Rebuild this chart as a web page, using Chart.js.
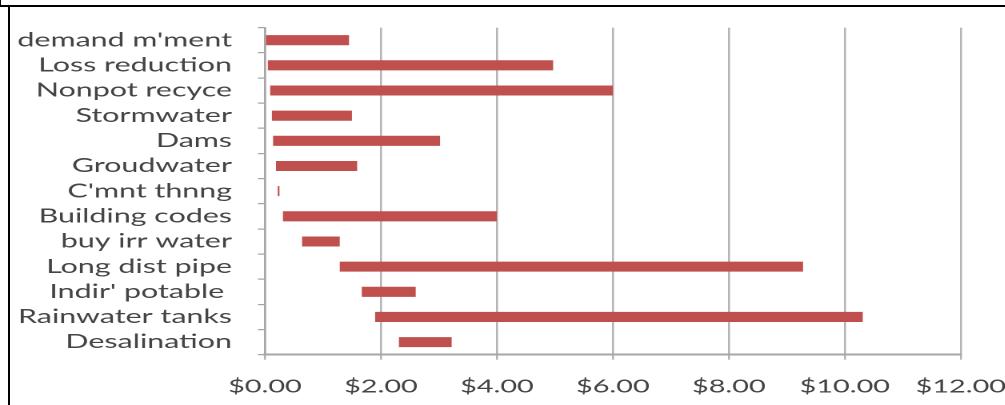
<!DOCTYPE html>
<html>
<head>
<meta charset="utf-8">
<script src="https://cdn.jsdelivr.net/npm/chart.js@4"></script>
<style>
  html, body { margin: 0; padding: 0; background: #fff; }
  body { width: 1005px; height: 405px; position: relative; overflow: hidden; }
  /* the original picture is stretched sideways, so draw narrow and widen */
  #wrap { position: absolute; left: 0; top: 0; width: 628px; height: 405px;
          transform: scaleX(1.6); transform-origin: 0 0; }
  .rule { position: absolute; background: #000; }
</style>
</head>
<body>
<div id="wrap"><canvas id="rangeChart"></canvas></div>
<div class="rule" style="left:0;top:5px;width:1005px;height:2px"></div>
<div class="rule" style="left:0;top:0;width:1px;height:6px"></div>
<div class="rule" style="left:8px;top:6px;width:2px;height:399px"></div>
<script>
const categories = ["demand m'ment", 'Loss reduction', 'Nonpot recyce', 'Stormwater', 'Dams',
    'Groudwater', "C'mnt thnng", 'Building codes', 'buy irr water', 'Long dist pipe',
    "Indir' potable ", 'Rainwater tanks', 'Desalination'];
const costLow  = [0.00, 0.05, 0.09, 0.12, 0.14, 0.19, 0.22, 0.31, 0.64, 1.29, 1.67, 1.90, 2.31];
const costHigh = [1.45, 4.97, 6.00, 1.50, 3.02, 1.59, 0.25, 4.00, 1.29, 9.28, 2.60, 10.31, 3.22];
const xTicks = [0, 2, 4, 6, 8, 10, 12];

const ranges = categories.map((c, i) => [costLow[i], costHigh[i]]);

const ctx = document.getElementById('rangeChart').getContext('2d');
new Chart(ctx, {
    type: 'bar',
    data: {
        labels: categories,
        datasets: [{
            data: ranges,
            backgroundColor: '#c0504d',
            borderWidth: 0,
            borderSkipped: false,
            barPercentage: 0.4,
            categoryPercentage: 1.0
        }]
    },
    options: {
        indexAxis: 'y',
        responsive: true,
        maintainAspectRatio: false,
        animation: false,
        devicePixelRatio: 2,
        layout: { padding: { left: 0, right: 27.5, top: 24.3, bottom: 0 } },
        plugins: {
            legend: { display: false },
            tooltip: { enabled: false }
        },
        scales: {
            x: {
                min: 0,
                max: 12,
                afterBuildTicks: (scale) => { scale.ticks = xTicks.map(v => ({ value: v })); },
                afterFit: (scale) => {
                    scale.height = 50.3;
                    scale.paddingLeft = 0;
                    scale.paddingRight = 0;
                },
                grid: { color: '#b4b4b4', lineWidth: 1.25, tickLength: 5 },
                border: { color: '#a6a6a6', width: 2 },
                ticks: {
                    padding: 16,
                    color: '#444',
                    font: { family: 'Lato', size: 18 },
                    callback: (v) => '$' + Number(v).toFixed(2)
                }
            },
            y: {
                afterFit: (scale) => { scale.width = 165.6; },
                grid: { drawOnChartArea: false, color: '#a6a6a6', lineWidth: 1.25, tickLength: 4.4 },
                border: { color: '#a6a6a6', width: 1.25 },
                ticks: {
                    autoSkip: false,
                    padding: 16.2,
                    color: '#444',
                    font: { family: 'Lato', size: 19 }
                }
            }
        }
    }
});
</script>
</body>
</html>
